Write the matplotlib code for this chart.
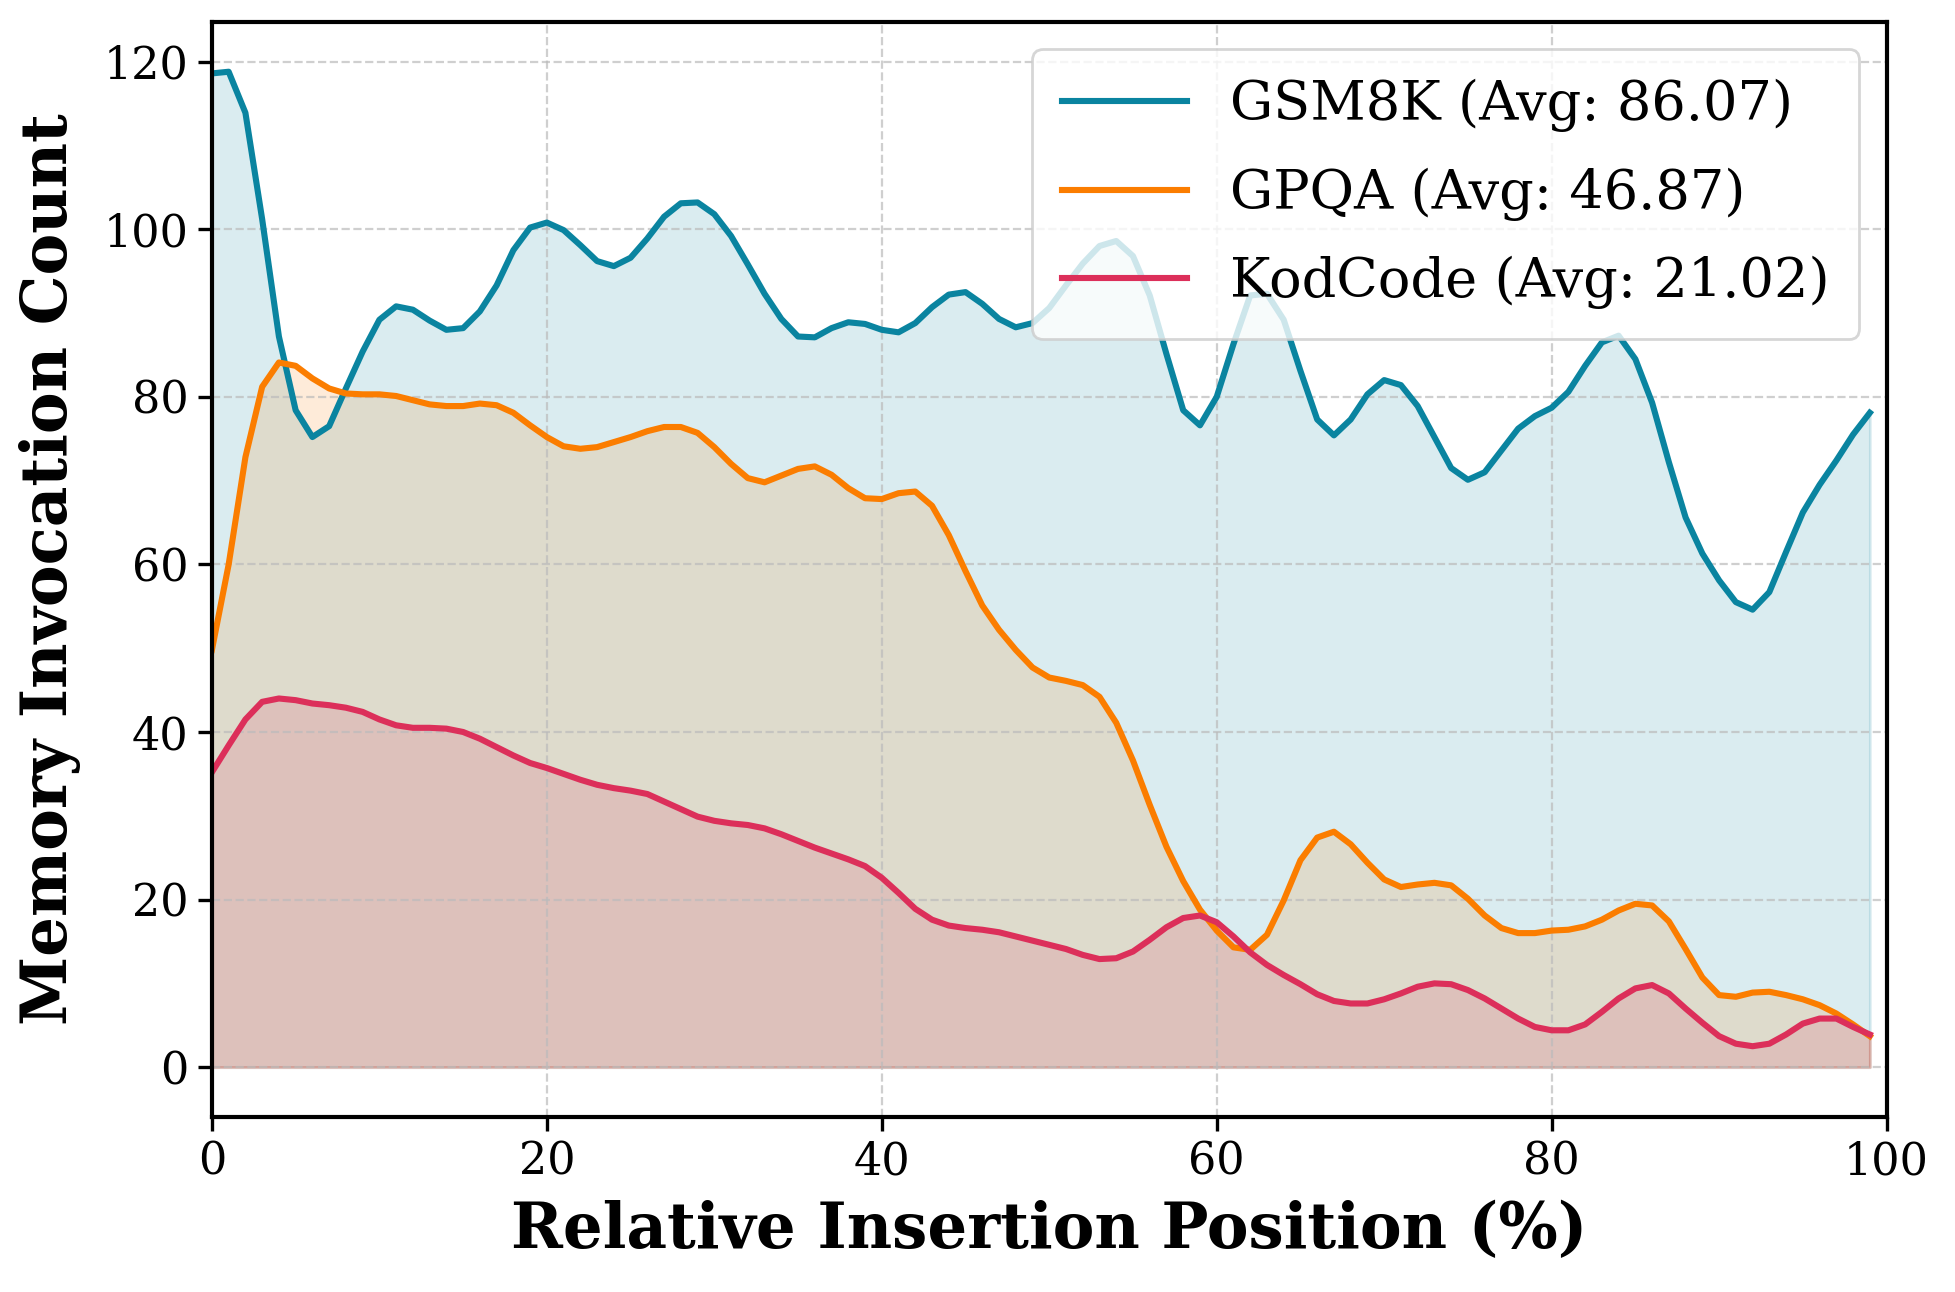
import matplotlib
matplotlib.use('Agg')
import matplotlib.pyplot as plt

positions = list(range(100))

gsm8k = [118.6, 118.8, 113.9, 101.2, 87.2, 78.4, 75.2, 76.5, 81.0, 85.4,
         89.2, 90.8, 90.4, 89.1, 88.0, 88.2, 90.2, 93.3, 97.5, 100.2,
         100.8, 99.9, 98.1, 96.2, 95.6, 96.6, 98.9, 101.5, 103.1, 103.2,
         101.8, 99.2, 95.8, 92.3, 89.3, 87.2, 87.1, 88.2, 88.9, 88.7,
         88.0, 87.7, 88.8, 90.7, 92.2, 92.5, 91.1, 89.3, 88.3, 88.8,
         90.6, 93.3, 95.9, 98.0, 98.6, 96.8, 92.1, 85.1, 78.4, 76.6,
         80.0, 86.3, 92.1, 92.3, 89.2, 83.1, 77.3, 75.4, 77.3, 80.3,
         82.0, 81.4, 78.9, 75.2, 71.5, 70.1, 71.0, 73.6, 76.2, 77.7,
         78.7, 80.6, 83.7, 86.5, 87.3, 84.5, 79.3, 72.2, 65.6, 61.3,
         58.1, 55.5, 54.6, 56.7, 61.5, 66.2, 69.5, 72.4, 75.5, 78.1]

gpqa = [49.8, 60.0, 72.8, 81.2, 84.1, 83.7, 82.2, 81.0, 80.4, 80.3,
        80.3, 80.1, 79.6, 79.1, 78.9, 78.9, 79.2, 79.0, 78.1, 76.6,
        75.2, 74.1, 73.8, 74.0, 74.6, 75.2, 75.9, 76.4, 76.4, 75.7,
        74.0, 72.0, 70.3, 69.8, 70.6, 71.4, 71.7, 70.7, 69.1, 67.9,
        67.8, 68.5, 68.7, 67.0, 63.5, 59.2, 55.1, 52.2, 49.8, 47.7,
        46.5, 46.1, 45.6, 44.2, 41.1, 36.6, 31.3, 26.3, 22.2, 18.8,
        16.3, 14.3, 14.0, 15.8, 19.9, 24.7, 27.4, 28.1, 26.6, 24.4,
        22.4, 21.5, 21.8, 22.0, 21.7, 20.1, 18.1, 16.6, 16.0, 16.0,
        16.3, 16.4, 16.8, 17.6, 18.7, 19.5, 19.3, 17.4, 14.1, 10.7,
        8.6, 8.4, 8.9, 9.0, 8.6, 8.1, 7.4, 6.4, 5.1, 3.7]

kodcode = [35.2, 38.4, 41.5, 43.6, 44.0, 43.8, 43.4, 43.2, 42.9, 42.4,
           41.5, 40.8, 40.5, 40.5, 40.4, 40.0, 39.2, 38.2, 37.2, 36.3,
           35.7, 35.0, 34.3, 33.7, 33.3, 33.0, 32.6, 31.7, 30.8, 29.9,
           29.4, 29.1, 28.9, 28.5, 27.8, 27.0, 26.2, 25.5, 24.8, 24.0,
           22.6, 20.8, 18.9, 17.6, 16.9, 16.6, 16.4, 16.1, 15.6, 15.1,
           14.6, 14.1, 13.4, 12.9, 13.0, 13.8, 15.2, 16.7, 17.8, 18.1,
           17.3, 15.6, 13.7, 12.2, 11.0, 9.9, 8.7, 7.9, 7.6, 7.6,
           8.1, 8.8, 9.6, 10.0, 9.9, 9.2, 8.2, 7.0, 5.8, 4.8,
           4.4, 4.4, 5.1, 6.6, 8.2, 9.4, 9.8, 8.8, 7.0, 5.3,
           3.7, 2.8, 2.5, 2.8, 3.9, 5.2, 5.8, 5.8, 4.8, 3.9]

names = ['GSM8K', 'GPQA', 'KodCode']
averages = ['86.07', '46.87', '21.02']
colors = ['#0A84A0', '#FB7D00', '#DC2F5A']

plt.rcParams['font.family'] = ['DejaVu Serif']

fig, ax = plt.subplots(figsize=(9.775, 6.46), dpi=200)
fig.subplots_adjust(left=0.1084, right=0.965, top=0.983, bottom=0.1355)

for name, avg, vals, col in zip(names, averages, [gsm8k, gpqa, kodcode], colors):
    ax.plot(positions, vals, color=col, linewidth=2.2, label=f'{name} (Avg: {avg})')
    ax.fill_between(positions, vals, 0, color=col, alpha=0.15)

ax.set_xlim(0, 100)
ax.set_xlabel('Relative Insertion Position (%)', fontsize=22.5, fontweight='bold', labelpad=6)
ax.set_ylabel('Memory Invocation Count', fontsize=22.5, fontweight='bold', labelpad=8)
ax.tick_params(axis='both', labelsize=16, width=1.2, length=5)
ax.grid(True, linestyle='--', alpha=0.7, color='#BBBBBB')
for s in ax.spines.values():
    s.set_linewidth(1.5)

ax.legend(loc='upper right', fontsize=19.5, framealpha=0.8, fancybox=True,
          labelspacing=0.65, borderpad=0.55, handlelength=2.3)

fig.savefig('out.png', dpi=200)
